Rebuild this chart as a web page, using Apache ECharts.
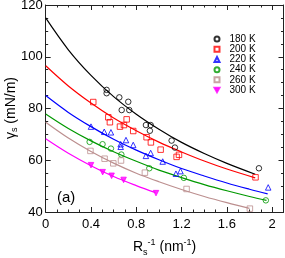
<!DOCTYPE html>
<html><head><meta charset="utf-8">
<script src="https://cdn.jsdelivr.net/npm/echarts@6/dist/echarts.min.js"></script>
<style>html,body{margin:0;padding:0;background:#fff}#c{width:285px;height:258px}</style>
</head><body><div id="c"></div>
<script>
// ---- data ----
const seriesNames = ['180 K', '200 K', '220 K', '240 K', '260 K', '300 K'];
const xTicks = [0, 0.4, 0.8, 1.2, 1.6, 2];
const yTicks = [40, 60, 80, 100, 120];

// measured points [R^-1, gamma]
const pts180 = [[0.538,87.2],[0.538,85.9],[0.650,84.3],[0.729,82.6],[0.671,79.4],[0.738,79.4],[0.885,73.6],[0.927,73.6],[0.920,71.4],[1.112,67.6],[1.141,64.9],[1.883,56.9]];
const pts200 = [[0.420,82.5],[0.553,76.6],[0.567,74.7],[0.656,73.0],[0.691,73.6],[0.715,75.8],[0.773,71.3],[0.891,68.9],[0.929,66.9],[1.015,64.1],[1.177,62.1],[1.156,61.3],[1.853,53.4]];
const pts220 = [[0.400,73.0],[0.517,71.0],[0.576,70.8],[0.662,66.2],[0.662,65.2],[0.709,67.8],[0.773,65.9],[0.885,61.7],[0.927,62.8],[1.033,59.5],[1.150,54.8],[1.190,55.8],[1.965,49.5]];
const pts240 = [[0.388,67.1],[0.502,66.2],[0.576,64.5],[0.668,62.2],[0.915,56.9],[1.220,53.2],[1.944,44.5]];
const pts260 = [[0.395,63.6],[0.520,60.6],[0.597,58.8],[0.665,59.9],[0.876,55.2],[1.244,48.9],[1.803,41.3]];
const pts300 = [[0.400,58.1],[0.503,55.4],[0.582,54.0],[0.688,52.4],[0.974,47.3]];

// fitted curves
const fit180 = [[0,115],[0.2,102.7],[0.4,92.8],[0.6,84.6],[0.8,77.8],[1.0,72.0],[1.2,66.9],[1.4,62.6],[1.6,58.8],[1.85,54.6]];
const fit200 = [[0,96.5],[0.2,88.7],[0.4,82.1],[0.6,76.3],[0.8,71.4],[1.0,67.0],[1.2,63.2],[1.4,59.7],[1.6,56.6],[1.85,53.2]];
const fit220 = [[0,85],[0.2,78.5],[0.4,73.0],[0.6,68.1],[0.8,63.9],[1.0,60.2],[1.2,56.8],[1.4,53.9],[1.6,51.2],[1.8,48.8],[1.96,47.0]];
const fit240 = [[0,77.9],[0.2,72.3],[0.4,67.5],[0.6,63.3],[0.8,59.6],[1.0,56.2],[1.2,53.3],[1.4,50.6],[1.6,48.2],[1.8,46.0],[1.95,44.5]];
const fit260 = [[0,74.7],[0.2,68.6],[0.4,63.4],[0.6,58.9],[0.8,55.0],[1.0,51.7],[1.2,48.7],[1.4,46.0],[1.6,43.6],[1.8,41.4]];
const fit300 = [[0,68.3],[0.2,62.7],[0.4,57.9],[0.6,53.7],[0.8,50.2],[0.97,47.5]];

const colors = ['#000000', '#ff0000', '#0000ff', '#009900', '#bc8f8f', '#ff00ff'];
const symbols = ['circle', 'rect', 'triangle', 'circle', 'rect', 'triangle'];
const rotates = [0, 0, 0, 0, 0, 180];
const filled = [false, false, false, false, false, true];
const points = [pts180, pts200, pts220, pts240, pts260, pts300];
const fits = [fit180, fit200, fit220, fit240, fit260, fit300];

const FONT = 'Liberation Sans, Arial, sans-serif';
const AX = '#222';

function xAx(pos, interval, len, labels, line) {
  return {
    type: 'value', position: pos, min: 0, max: 2.1, interval: interval,
    axisLine: {show: line, onZero: false, lineStyle: {color: AX, width: 1}},
    axisTick: {show: true, inside: true, length: len, lineStyle: {color: AX, width: 1}},
    splitLine: {show: false},
    axisLabel: {show: labels, showMaxLabel: false, margin: 6, color: '#000', fontSize: 13, fontFamily: FONT,
      formatter: v => (xTicks.some(t => Math.abs(t - v) < 1e-6) ? String(+v.toFixed(1)) : '')},
    name: labels ? '{a|R}{sub|s}{sup|-1}{a| (nm}{sup|-1}{a|)}' : '',
    nameLocation: 'middle', nameGap: 20,
    nameTextStyle: {fontFamily: FONT, color: '#000', rich: {
      a: {fontSize: 14, fontFamily: FONT, color: '#000', padding: [6, 0, 0, 0]},
      sub: {fontSize: 9, fontFamily: FONT, color: '#000', padding: [16, 0, 0, 0]},
      sup: {fontSize: 9, fontFamily: FONT, color: '#000', padding: [0, 0, 3, 0]}
    }}
  };
}
function yAx(pos, interval, len, labels, line) {
  return {
    type: 'value', position: pos, min: 40, max: 120, interval: interval,
    axisLine: {show: line, onZero: false, lineStyle: {color: AX, width: 1}},
    axisTick: {show: true, inside: true, length: len, lineStyle: {color: AX, width: 1}},
    splitLine: {show: false},
    axisLabel: {show: labels, margin: 3, color: '#000', fontSize: 13, fontFamily: FONT,
      formatter: v => (yTicks.indexOf(v) >= 0 ? String(v) : '')}
  };
}

const series = [];
for (let i = 0; i < 6; i++) {
  series.push({
    type: 'line', name: 'fit' + i, data: fits[i], smooth: 0.35, showSymbol: false, silent: true,
    lineStyle: {color: colors[i], width: 1.2}, z: 2
  });
}
for (let i = 0; i < 6; i++) {
  series.push({
    type: 'scatter', name: seriesNames[i], data: points[i], symbol: symbols[i],
    symbolRotate: rotates[i], symbolSize: 5.5,
    itemStyle: {color: filled[i] ? colors[i] : 'rgba(255,255,255,0)', borderColor: colors[i], borderWidth: 1},
    z: 3
  });
}

const legendData = seriesNames.map((n, i) =>
  rotates[i] === 180 ? {name: n, icon: 'path://M0,0 L10,0 L5,9 Z'} : {name: n});

const chart = echarts.init(document.getElementById('c'), null, {renderer: 'canvas'});
chart.setOption({
  animation: false,
  backgroundColor: '#fff',
  grid: {left: 45.7, right: 1.5, top: 5, bottom: 46, containLabel: false, outerBoundsMode: 'none'},
  xAxis: [xAx('bottom', 0.4, 5, true, true), xAx('bottom', 0.1, 2.5, false, false),
          xAx('top', 0.4, 5, false, true), xAx('top', 0.1, 2.5, false, false)],
  yAxis: [yAx('left', 20, 5, true, true), yAx('left', 5, 2.5, false, false),
          yAx('right', 20, 5, false, true), yAx('right', 5, 2.5, false, false)],
  legend: {
    data: legendData, orient: 'vertical', left: 213.5, top: 34, padding: 0,
    itemWidth: 5, itemHeight: 5, itemGap: 0.1, selectedMode: false,
    textStyle: {fontSize: 10, lineHeight: 10.1, fontFamily: FONT, color: '#000', padding: [0, 0, 0, 5]}
  },
  graphic: [
    {type: 'text', left: 57, top: 190, style: {text: '(a)', fontSize: 15, fontFamily: FONT, fill: '#000'}},
    {type: 'text', x: 11, y: 108, rotation: Math.PI / 2,
     style: {text: '{a|γ}{sub|s}{a| (mN/m)}', align: 'center', verticalAlign: 'middle', fill: '#000',
       rich: {a: {fontSize: 14, fontFamily: FONT, fill: '#000'},
              sub: {fontSize: 9, fontFamily: FONT, fill: '#000', padding: [8, 0, 0, 0]}}}}
  ],
  series: series
});
</script></body></html>
